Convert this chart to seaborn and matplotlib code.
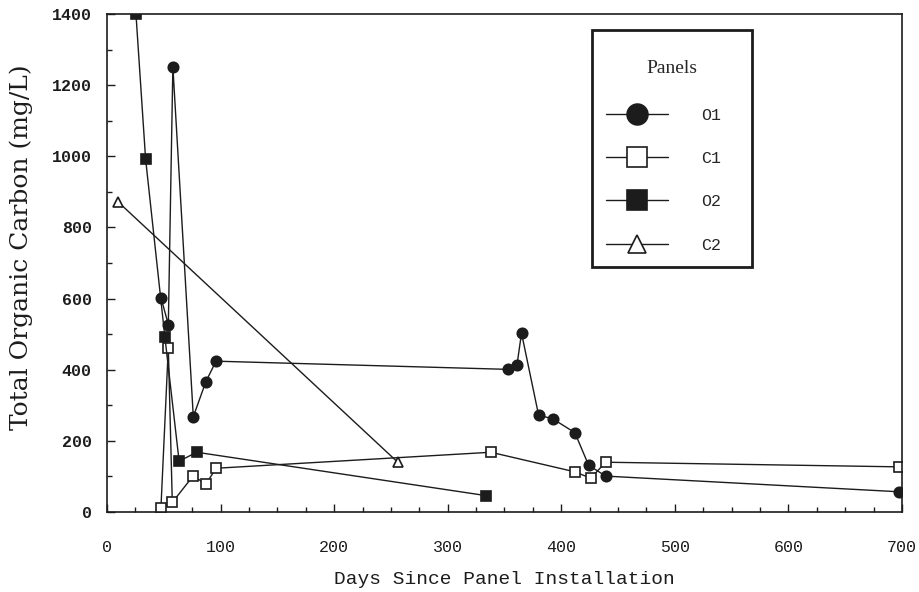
import matplotlib
matplotlib.use("Agg")
import matplotlib.pyplot as plt
from matplotlib.ticker import MultipleLocator
from matplotlib.offsetbox import PaddedBox
import seaborn as sns
import pandas as pd

# Total organic carbon per panel over time
o1_days = [47.5, 54, 58, 76, 87, 96, 353, 361, 365, 380, 393, 412, 424, 439, 697]
o1_toc = [603, 527, 1252, 268, 366, 424, 401, 413, 503, 273, 261, 223, 132, 101, 57]

c1_days = [47.5, 54, 57.5, 76, 87, 96, 338, 412, 426, 439, 697]
c1_toc = [12, 462, 27, 102, 78, 123, 168, 113, 95, 140, 127]

o2_days = [25.5, 34, 51, 63.5, 79, 334]
o2_toc = [1400, 992, 491, 143, 168, 46]

c2_days = [9.7, 256]
c2_toc = [872, 140]

panel_names = ["O1", "C1", "O2", "C2"]

sns.set_theme(style="ticks")
plt.rcParams["font.family"] = ["Liberation Mono", "DejaVu Sans"]

ink = "#1c1c1c"
styles = {
    "O1": dict(marker="o", markersize=7.5, markerfacecolor=ink, markeredgecolor=ink),
    "C1": dict(marker="s", markersize=7.5, markerfacecolor="white", markeredgecolor=ink),
    "O2": dict(marker="s", markersize=7.5, markerfacecolor=ink, markeredgecolor=ink),
    "C2": dict(marker="^", markersize=6.5, markerfacecolor="white", markeredgecolor=ink),
}
series = {
    "O1": (o1_days, o1_toc),
    "C1": (c1_days, c1_toc),
    "O2": (o2_days, o2_toc),
    "C2": (c2_days, c2_toc),
}

fig = plt.figure(figsize=(9.2, 5.92), dpi=100)
ax = fig.add_axes([0.1163, 0.1351, 0.8641, 0.8413])

for name in panel_names:
    days, toc = series[name]
    df = pd.DataFrame({"days": days, "toc": toc})
    sns.lineplot(data=df, x="days", y="toc", ax=ax, color=ink, linewidth=1.0,
                 estimator=None, sort=False, label=name, markeredgewidth=1.2,
                 **styles[name])

ax.set_xlim(0, 700)
ax.set_ylim(0, 1400)
ax.xaxis.set_major_locator(MultipleLocator(100))
ax.xaxis.set_minor_locator(MultipleLocator(25))
ax.yaxis.set_major_locator(MultipleLocator(200))
ax.yaxis.set_minor_locator(MultipleLocator(100))
ax.tick_params(axis="both", which="both", direction="in", colors=ink,
               top=False, right=False)
ax.tick_params(axis="both", which="major", length=6, width=1.0, labelsize=12)
ax.tick_params(axis="both", which="minor", length=3.5, width=1.0)
ax.tick_params(axis="x", which="major", pad=20)
ax.tick_params(axis="y", which="major", pad=11)
for lab in ax.get_yticklabels():
    lab.set_fontweight("bold")

for sp in ax.spines.values():
    sp.set_visible(True)
    sp.set_color(ink)
    sp.set_linewidth(1.2)

ax.set_xlabel("Days Since Panel Installation", fontsize=14, labelpad=12, color=ink)
ax.set_ylabel("Total Organic Carbon (mg/L)", fontsize=18, color=ink,
              family=["DejaVu Serif"])
ax.yaxis.set_label_coords(-0.093, 0.532)

leg = ax.legend(loc="upper left", bbox_to_anchor=(0.61, 0.49, 0.201, 0.478),
                mode="expand", borderaxespad=0, fontsize=12, title="Panels",
                title_fontsize=14, markerscale=2.0, handlelength=3.7,
                handletextpad=2.0, labelspacing=1.70, borderpad=0.85,
                fancybox=False, framealpha=1, edgecolor=ink)
leg.get_frame().set_linewidth(2.0)
leg.get_title().set_family(["Liberation Serif", "DejaVu Serif"])
# extra room around the legend title
title_pad = 11.5
leg._legend_box._children[0] = PaddedBox(leg._legend_title_box, pad=title_pad)
leg._legend_box.sep = 22 - title_pad

fig.savefig("out.png", dpi=100, facecolor="white")
